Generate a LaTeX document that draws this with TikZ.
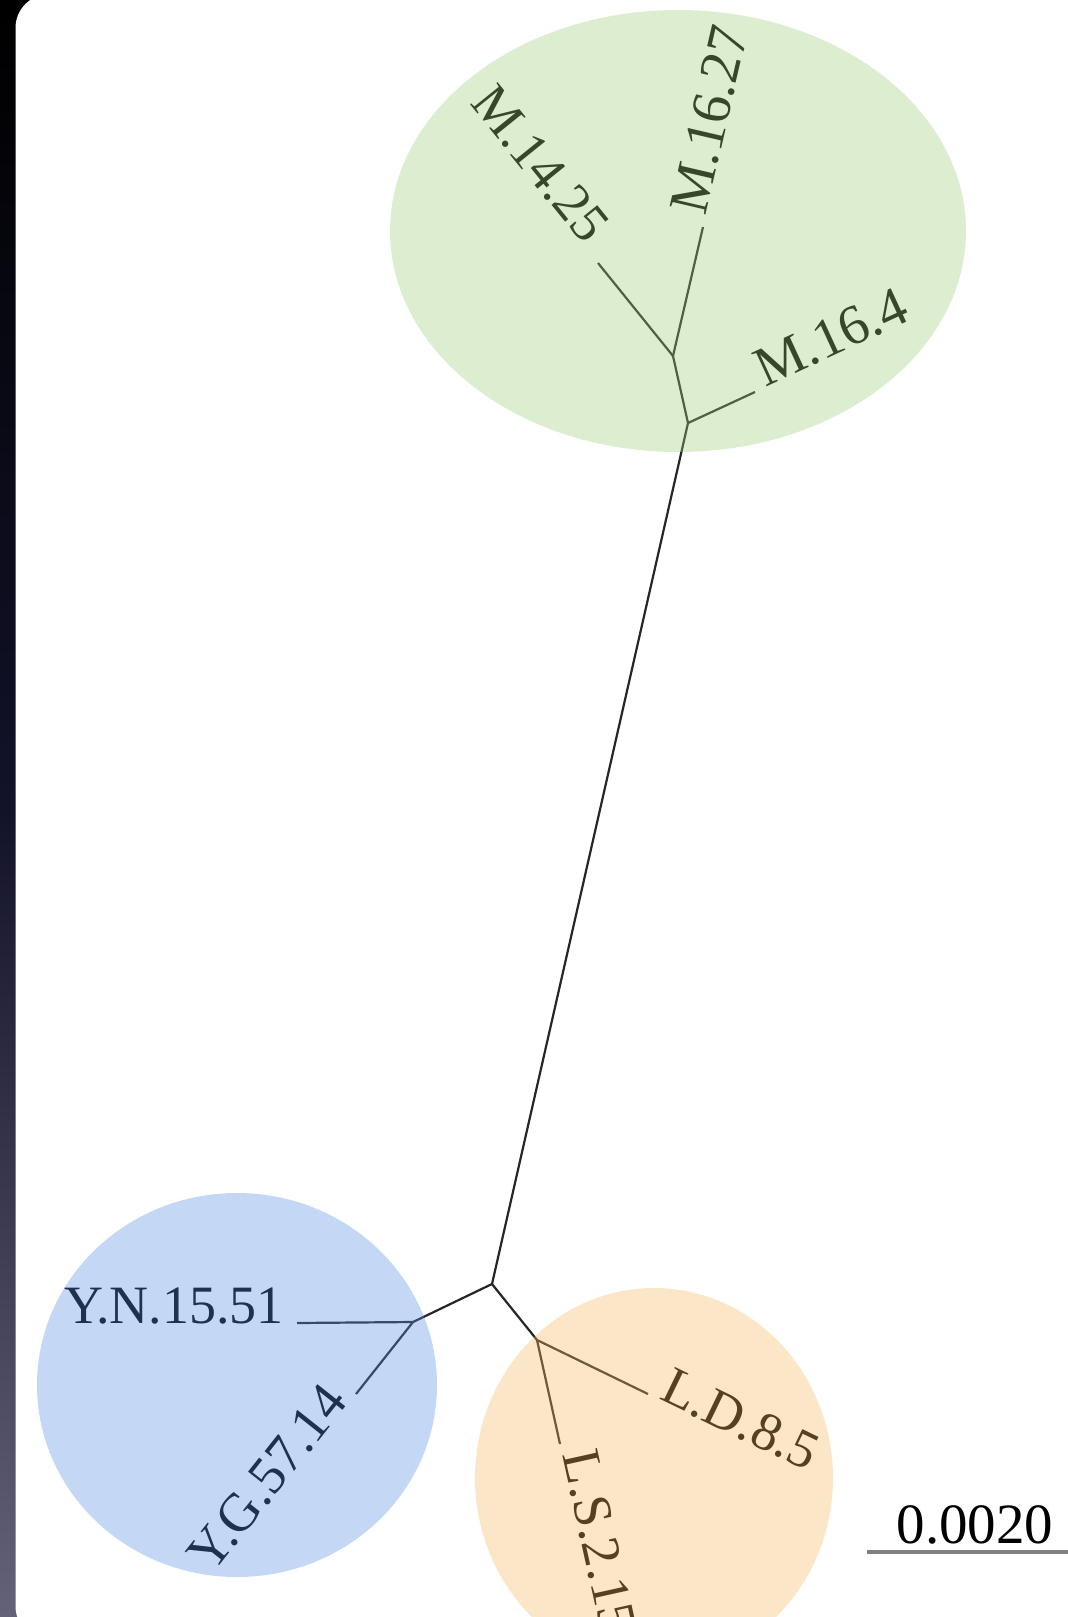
\documentclass[tikz,border=0pt]{standalone}
\usepackage{fontspec}
\setmainfont{Liberation Serif}
\usetikzlibrary{calc}

\definecolor{grpM}{RGB}{158,209,121}
\definecolor{grpY}{RGB}{86,146,232}
\definecolor{grpL}{RGB}{249,186,98}
\definecolor{barTop}{RGB}{0,0,0}
\definecolor{barMid}{RGB}{18,18,42}
\definecolor{barBot}{RGB}{100,98,120}
\definecolor{scaleGray}{RGB}{128,128,128}

\tikzset{
  branch/.style={draw=black!85, line width=2.2pt},
  taxon/.style={font=\fontsize{54}{60}\selectfont, text=black, inner xsep=11pt, inner ysep=0pt},
  clade/.style={fill=#1, fill opacity=0.35, draw=none}
}

\begin{document}
\begin{tikzpicture}[x=1pt, y=-1pt]
  \useasboundingbox (0,0) rectangle (1068,1617);

  % window frame on the left and the white card
  \shade[top color=barTop, bottom color=barBot, middle color=barMid] (0,0) rectangle (80,1617);
  \fill[white, rounded corners=34pt] (15.5,-6) rectangle (1140,1640);

  % inner nodes of the tree
  \coordinate (nB) at (688,423);
  \coordinate (nA) at (673,356);
  \coordinate (nC) at (492,1284);
  \coordinate (nD) at (413,1322);
  \coordinate (nE) at (537,1340);

  % leaf ends
  \coordinate (lM1425) at (598,263);
  \coordinate (lM1627) at (703,227);
  \coordinate (lM164)  at (755,392);
  \coordinate (lYN)    at (297,1323);
  \coordinate (lYG)    at (356,1394);
  \coordinate (lLD)    at (648,1394);
  \coordinate (lLS)    at (560,1444);

  % branches
  \draw[branch] (nC) -- (nB);
  \draw[branch] (nB) -- (nA);
  \draw[branch] (nA) -- (lM1425);
  \draw[branch] (nA) -- (lM1627);
  \draw[branch] (nB) -- (lM164);
  \draw[branch] (nC) -- (nD);
  \draw[branch] (nD) -- (lYN);
  \draw[branch] (nD) -- (lYG);
  \draw[branch] (nC) -- (nE);
  \draw[branch] (nE) -- (lLD);
  \draw[branch] (nE) -- (lLS);

  % taxon labels
  \node[taxon, rotate=-51.1, anchor=base east, inner xsep=22pt] (tM1425) at (lM1425) {M.14.25};
  \node[taxon, rotate=76.9,  anchor=base west, font=\fontsize{56}{60}\selectfont] (tM1627) at (lM1627) {M.16.27};
  \node[taxon, rotate=24.8,  anchor=base west, font=\fontsize{56}{60}\selectfont] (tM164)  at (lM164)  {M.16.4};
  \node[taxon, rotate=0,     anchor=base east, inner xsep=13pt] (tYN)    at (lYN)    {Y.N.15.51};
  \node[taxon, rotate=51.6,  anchor=base east] (tYG)    at (lYG)    {Y.G.57.14};
  \node[taxon, rotate=-25.9, anchor=base west] (tLD)    at (lLD)    {L.D.8.5};
  \node[taxon, rotate=-77.5, anchor=base west] (tLS)    at (lLS)    {L.S.2.15};

  % translucent clade highlights
  \path[clade=grpM] (678,231) ellipse [x radius=288, y radius=221];
  \path[clade=grpY] (237,1385) ellipse [x radius=200, y radius=192];
  \path[clade=grpL] (654,1478) ellipse [x radius=179, y radius=190];

  % scale bar
  \coordinate (sbL) at (867,1552);
  \coordinate (sbR) at (1068,1552);
  \draw[draw=scaleGray, line width=4pt] (sbL) -- (sbR);
  \node[font=\fontsize{57}{60}\selectfont, anchor=base, inner sep=0pt] (sbT) at (975,1543) {0.0020};
\end{tikzpicture}
\end{document}
